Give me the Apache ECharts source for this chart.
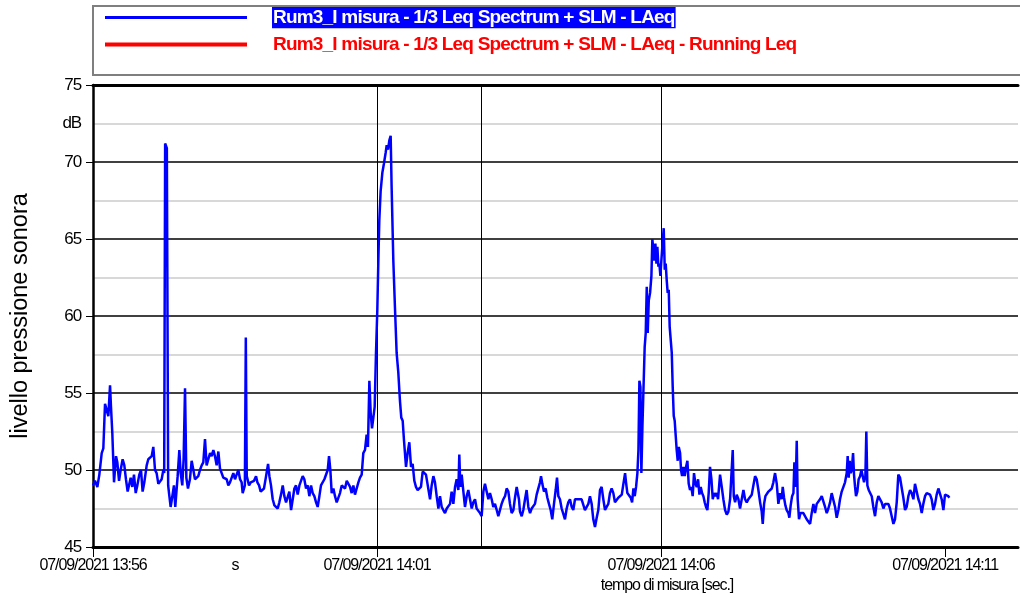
<!DOCTYPE html>
<html>
<head>
<meta charset="utf-8">
<script src="https://cdn.jsdelivr.net/npm/echarts@6/dist/echarts.min.js"></script>
<style>
  html, body { margin: 0; padding: 0; background: #fff; }
  #chart { width: 1020px; height: 598px; }
</style>
</head>
<body>
<div id="chart"></div>
<script>
// LAeq readings, [seconds since 13:56:00, dB]
const opening = [
  [0,49.0],[2.1,49.3],[4.6,48.9],[6.7,49.7],[9.2,51.1],[10.9,51.4],[12.7,54.3],[14.4,53.9],[16.2,53.5],[18,55.5],
  [19,54.1],[20.4,52.4],[22.2,49.2],[24.3,50.9],[25.7,50.5],[27.5,49.3],[29.2,50.0],[31.3,50.7],[33.1,50.3],[34.8,49.4],
  [36.6,48.6],[38.4,48.5],[39.8,49.5],[41.5,48.9],[43.3,49.7],[45.1,48.5],[46.8,49.0],[48.9,49.7],[50.7,50.0],[52.4,48.6],
  [54.2,49.2],[56.7,50.3],[58.4,50.7],[60.2,50.7],[62,50.9],[63.7,51.5],[65.5,50.0],[67.2,49.8],[69,49.1],[70.8,49.0],
  [72.5,49.4],[74.3,50.0],[75.2,49.8],[76.2,71.2],[78,70.9],[79.4,49.0],[80.3,48.5],[82,47.6],[83.8,48.3],[85.5,49.0],
  [86.9,47.6],[88.4,47.5],[89.4,49.6],[91.2,51.3],[92.6,49.8],[94.3,49.0],[95.7,50.7],[97.2,55.3],[98.6,49.5],[100.3,48.8],
  [102.4,49.4],[104.2,50.6],[106,50.0],[107.7,49.4],[109.5,49.4],[111.2,49.6],[113,50.0],[114.8,50.3],[116.5,50.5],[118.3,52.0],
  [120,50.3],[121.8,50.7],[123.6,51.1],[125.3,50.9],[127.1,51.3],[128.8,50.9],[130.6,50.3],[132.4,51.2],[134.1,50.1],[135.9,49.8],
  [137.6,49.5],[139.4,49.6],[141.2,49.4],[142.9,49.0],[144.7,49.2],[146.5,49.3],[148.2,49.8],[150,49.4],[151.7,49.7],[153.5,50.0],
  [155.3,49.4],[157,49.2],[158.1,48.5],[160.4,49.0],[161.4,58.6],[162.4,49.6]
];
const steadyA = [
  [164.8,49.0],[166.6,49.2],[168.3,49.1],[170.1,49.3],[172.2,49.6],[173.6,49.2],[175.4,49.0],[177.1,48.6],[178.9,48.5],[180.6,48.8],
  [182.8,49.6],[184.9,50.4],[186.3,49.6],[188,49.0],[189.8,48.1],[191.6,47.7],[193.3,47.6],[195.1,47.5],[196.8,47.9],[198.6,48.4],
  [200.4,49.0],[202.1,48.3],[203.9,47.9],[205.6,47.9],[207.4,48.6],[209.2,47.4],[210.9,47.3],[212.7,48.8],[214.4,49.0],[216.2,48.4],
  [218,49.0],[219.7,48.9],[221.5,49.6],[223.2,49.4],[225,48.8],[226.8,49.0],[228.5,48.3],[230.3,49.0],[232,48.5],[233.8,48.3],
  [235.6,47.9],[237.3,47.6],[239.1,48.3],[240.8,49.0],[242.6,49.1],[244.4,49.4],[246.1,49.5],[247.9,50.0],[249.3,50.9],[250.7,50.0],
  [252.1,48.5],[253.9,48.8],[255.6,48.3],[257.4,47.9],[259.1,47.8],[260.9,48.5],[262.7,49.0],[264.4,48.9],[266.2,48.8],[268,49.3],
  [269.7,49.3],[271.5,48.9],[273.2,48.5],[275,49.0],[276.7,48.4],[278.5,48.8],[280.3,49.2],[282,49.5],[283.8,49.7]
];
const firstPassBy = [
  [285.5,51.1],[287.3,51.3],[289,52.3],[290.4,51.5],[291.9,55.8],[293.3,53.7],[294.7,52.7],[296.1,52.7],[297.5,54.1],[298.9,57.6],
  [300.3,60.4],[301.4,63.6],[302.4,66.2],[303.8,68.1],[305.6,69.3],[307.3,69.9],[309.1,70.6],[310.2,71.1],[311.6,70.8],[313,71.4],
  [314.4,71.7],[315.4,68.4],[317.2,63.6],[318.9,60.6],[320.7,57.6],[322.5,56.3],[324.2,54.5],[325.6,53.4],[327.1,53.2],[328.5,51.9],
  [330.6,50.2],[332.3,51.1],[334.1,51.8],[335.9,50.2],[337.6,50.4],[339.4,49.3],[341.1,48.9],[342.9,48.7],[344.7,48.8],[346.4,48.9],
  [348.2,49.9],[349.9,49.8],[351.7,49.7],[353.5,49.8]
];
const steadyB = [
  [356,48.1],[357.7,49.0],[359.5,49.6],[361.2,49.2],[363,48.3],[364.8,47.5],[366.5,48.3],[368.3,47.6],[370,47.4],[371.8,47.2],
  [373.6,47.5],[375.3,47.6],[377.1,47.8],[378.8,48.6],[380.6,47.8],[382.4,48.9],[384.1,49.4],[385.9,48.7],[386.9,51.0],[388,48.9],
  [389.4,49.7],[391.2,48.6],[392.9,47.6],[394.7,48.3],[396.4,48.7],[398.2,48.1],[400,47.5],[401.7,47.9],[403.5,48.1],[405.2,47.5],
  [407,47.4],[408.8,47.2],[410.5,47.0],[412.3,48.6],[414,49.1],[415.8,49.2],[417.6,48.1],[419.3,48.5],[421.1,48.1],[422.8,47.6],
  [424.6,47.8],[426.4,47.4],[428.1,47.0],[429.9,46.9],[431.6,47.8],[433.4,48.1],[435.2,48.3],[436.9,48.8],[438.7,48.6],[440.4,47.8],
  [442.2,47.2],[444,47.4],[445.7,48.2],[447.5,48.9],[448.5,49.0],[449.9,48.1],[451,47.3],[452.8,47.0],[454.5,47.4],[456.3,48.1],
  [458,48.7],[459.8,47.6],[461.6,47.2],[463.3,47.5],[465.1,47.4],[466.8,47.8],[468.6,48.4],[470.4,48.5],[472.1,49.2],[473.2,49.6],
  [474.6,49.1],[476.3,48.6],[478.1,48.8],[479.9,48.2],[481.6,47.8],[483.4,47.4],[485.1,46.8],[486.9,47.8],[488.7,48.7],[490.1,49.5],
  [491.5,48.3],[493.2,48.1],[495,47.5],[496.8,47.4],[498.5,46.8],[500.3,47.5],[502,47.9],[503.8,48.1],[505.6,47.6],[507.3,47.4],
  [509.1,48.1],[510.8,48.2],[512.6,48.1],[514.4,48.2],[516.1,48.1],[517.9,48.1],[519.6,47.4],[521.4,47.3],[523.2,47.8],[524.9,48.3],
  [526.7,47.8],[528.4,46.8],[530.2,46.3],[532,46.9],[533.7,47.4],[535.5,48.7],[537.2,48.9],[539,48.1],[540.8,47.4],[542.5,47.6],
  [544.3,47.8],[546,48.5],[547.8,48.8],[549.6,48.5],[551.3,47.9],[553.1,47.9],[554.8,48.2],[556.6,48.3]
];
const secondPassBy = [
  [558.5,48.4],[560.2,49.1],[562,49.8],[563,49.2],[564.4,48.5],[566.2,48.4],[568,48.2],[569.4,47.9],[570.8,48.8],[572.2,48.3],
  [573.6,48.9],[575,49.8],[576.1,51.3],[577.1,55.8],[578.2,55.4],[579.2,49.8],[580.3,52.8],[581.3,55.0],[582.7,58.0],[583.8,58.9],
  [584.9,61.9],[585.9,58.9],[587,61.0],[588.4,61.5],[589.8,62.6],[590.8,65.0],[591.9,64.9],[592.9,63.6],[594,64.7],[595.1,63.4],
  [596.1,64.5],[597.2,63.2],[598.2,63.4],[599.3,62.6],[600.3,63.6],[601.8,64.9],[602.8,65.7],[603.9,63.0],[604.9,63.4],[606,62.3],
  [607,61.5],[608.1,61.7],[609.1,59.3],[610.2,59.3],[611.3,57.6],[612.3,55.4],[613.4,53.5],[614.4,53.2],[615.5,52.2],[616.5,51.3],
  [617.6,50.6],[618.7,51.5],[620.1,51.1],[621.1,50.0],[622.2,49.6],[623.6,50.2],[625,49.6],[626.4,50.2],[627.8,50.6],[629.2,49.1],
  [630.6,48.7],[632,48.9],[633.4,48.3],[634.8,49.8],[636.3,49.1],[637.7,48.9],[639.1,49.4],[640.5,48.4],[641.9,48.9],[643.3,48.5],
  [644.7,48.3],[646.1,47.9],[647.5,47.6],[648.9,47.4],[650.3,48.5],[651.7,50.2],[653.2,49.4],[654.6,48.1],[656,48.5],[657.4,48.3],
  [658.8,48.5],[660.2,48.1]
];
const closing = [
  [662.3,49.7],[664.1,48.9],[665.8,48.1],[667.6,47.4],[669.4,47.1],[671.1,47.3],[672.9,48.1],[674.6,48.2],[675.7,51.3],[676.8,48.3],
  [678.2,47.9],[679.9,48.4],[681.7,48.1],[683.4,47.5],[685.2,48.1],[687,48.7],[688.7,48.1],[690.5,47.9],[692.2,48.1],[694,48.2],
  [695.8,48.4],[697.5,49.0],[699.3,49.6],[701,49.4],[702.8,48.7],[704.6,47.9],[706.3,47.3],[707.4,46.5],[708.8,47.8],[710.2,48.3],
  [711.6,48.4],[713.4,48.6],[715.1,48.7],[716.9,48.8],[718.6,49.2],[720.4,49.8],[722.2,49.1],[723.9,47.8],[725.7,48.5],[727.4,48.1],
  [728.5,48.9],[729.9,48.2],[731.3,47.7],[732.7,47.4],[734.5,47.2],[735.5,46.9],[736.9,47.7],[738.4,48.3],[739.8,48.5],[740.8,50.5],
  [742.2,48.9],[743.3,51.9],[744.3,48.1],[745.7,46.8],[747.2,47.2],[748.6,47.2],[750.3,47.2],[752.1,47.1],[753.8,46.8],[755.6,46.9],
  [757.4,46.5],[759.1,47.2],[760.9,47.8],[762.6,47.2],[764.4,47.8],[766.2,47.9],[767.9,48.1],[769.7,48.3],[771.4,48.3],[773.2,47.6],
  [775,47.2],[776.7,47.5],[778.5,47.9],[780.2,48.5],[782,48.6],[783.8,47.6],[785.5,46.9],[787.3,47.4],[789,48.1],[790.8,48.6],
  [792.6,48.7],[794.3,49.2],[796.1,49.8],[797.1,50.9],[798.2,49.5],[799.2,50.6],[800.3,49.8],[801.4,50.0],[802.8,51.1],[803.8,49.7],
  [804.9,48.9],[805.9,48.3],[807.3,48.6],[808.7,49.4],[810.2,49.6],[811.6,50.0],[813,50.1],[814.4,49.2],[815.8,49.6],[816.8,52.5],
  [817.9,49.0],[819.3,48.7],[820.7,48.6],[822.5,48.3],[824.2,47.6],[826,47.0],[827.8,47.9],[829.5,48.3],[831.3,48.4],[833,47.9],
  [834.8,47.5],[836.6,47.8],[838.3,47.9],[840.1,47.8],[841.8,47.5],[843.6,47.4],[845.4,46.5],[847.1,46.8],[848.9,47.9],[850.6,49.7],
  [852.4,49.5],[854.2,49.4],[855.9,48.2],[857.7,47.4],[859.4,47.6],[861.2,48.3],[863,48.7],[864.7,48.5],[866.5,48.1],[868.2,49.1],
  [870,49.2],[871.8,48.1],[873.5,47.8],[875.3,47.2],[877,47.8],[878.8,48.3],[880.6,48.5],[882.3,48.5],[884.1,48.4],[885.8,48.1],
  [887.6,47.4],[889.4,47.8],[891.1,48.4],[892.9,48.8],[894.6,48.7],[896.4,48.1],[898.2,47.4],[899.9,48.4],[901.7,48.5],[903.4,48.3],
  [904.5,48.2]
];
const runningLeq = [];

const seriesNames = [
  'Rum3_I misura - 1/3 Leq Spectrum + SLM - LAeq',
  'Rum3_I misura - 1/3 Leq Spectrum + SLM - LAeq - Running Leq'
];
const timeTickSeconds = [0, 300, 600, 900];
const timeTickLabels = ['07/09/2021 13:56', '07/09/2021 14:01', '07/09/2021 14:06', '07/09/2021 14:11'];
const unitTickSeconds = 150;
const unitTickLabel = 's';
const cursorSeconds = 410;
const levelTicks = { min: 45, max: 75, step: 5 };
const levelUnitTick = 72.5;

// Tight tracking for canvas text: a "track<N>px" entry in a font list sets letter spacing.
(function () {
  const proto = CanvasRenderingContext2D.prototype;
  const TRACK = /track(-?[\d.]+)px/;
  ['fillText', 'strokeText', 'measureText'].forEach(fn => {
    const orig = proto[fn];
    proto[fn] = function () {
      const m = TRACK.exec(this.font);
      try { this.letterSpacing = m ? m[1] + 'px' : '0px'; } catch (e) {}
      return orig.apply(this, arguments);
    };
  });
})();

const AXIS_FONT = '"track-1.1px", "Liberation Sans", Arial, sans-serif';
const LEGEND_FONT = '"track-0.8px", "Liberation Sans", Arial, sans-serif';
const TITLE_FONT = '"Liberation Sans", Arial, sans-serif';

const laeq = [].concat(opening, steadyA, firstPassBy, steadyB, secondPassBy, closing);

function timeLabel(v) {
  if (v === unitTickSeconds) return unitTickLabel;
  const i = timeTickSeconds.indexOf(v);
  return i >= 0 ? timeTickLabels[i] : '';
}

const chart = echarts.init(document.getElementById('chart'), null, { renderer: 'canvas' });

chart.setOption({
  animation: false,
  backgroundColor: '#ffffff',
  grid: { left: 93, right: 2, top: 85, bottom: 51, containLabel: false },
  graphic: [{
    type: 'rect',
    shape: { x: 93, y: 6, width: 940, height: 69 },
    style: { fill: 'none', stroke: '#7f7f7f', lineWidth: 2 },
    silent: true
  }],
  legend: [{
    data: [seriesNames[0]],
    left: 105, top: 7, padding: 0,
    icon: 'rect', itemWidth: 142, itemHeight: 3,
    selectedMode: false,
    formatter: n => '{gap|}{hl|' + n + '}',
    textStyle: {
      rich: {
        gap: { width: 20 },
        hl: { color: '#ffffff', backgroundColor: '#0000ff', fontFamily: LEGEND_FONT, fontWeight: 'bold', fontSize: 19, padding: [2, 1, 1, 1] }
      }
    }
  }, {
    data: [seriesNames[1]],
    left: 105, top: 36, padding: 0,
    icon: 'rect', itemWidth: 142, itemHeight: 4,
    selectedMode: false,
    formatter: n => '{gap|}{t|' + n + '}',
    textStyle: {
      rich: {
        gap: { width: 20 },
        t: { color: '#ff0000', fontFamily: LEGEND_FONT, fontWeight: 'bold', fontSize: 19, padding: [2, 1, 1, 1] }
      }
    }
  }],
  xAxis: [{
    type: 'value', position: 'bottom', min: 0, max: 977, interval: 300,
    axisLine: { show: true, onZero: false, lineStyle: { color: '#000', width: 3 } },
    axisTick: { show: true, customValues: timeTickSeconds, length: 10, lineStyle: { color: '#000', width: 1 } },
    axisLabel: {
      customValues: timeTickSeconds.concat([unitTickSeconds]),
      formatter: timeLabel, fontFamily: AXIS_FONT, fontSize: 16, color: '#000', margin: 11
    },
    splitLine: { show: true, showMinLine: false, showMaxLine: false, lineStyle: { color: '#000', width: 1 } },
    name: 'tempo di misura [sec.]', nameLocation: 'middle', nameGap: 31,
    nameTextStyle: { fontFamily: AXIS_FONT, fontSize: 16, color: '#000', padding: [0, 0, 0, 223] }
  }, {
    type: 'value', position: 'top', min: 0, max: 977,
    axisLine: { show: true, onZero: false, lineStyle: { color: '#000', width: 3 } },
    axisTick: { show: false }, axisLabel: { show: false }, splitLine: { show: false }
  }],
  yAxis: [{
    type: 'value', min: levelTicks.min, max: levelTicks.max, interval: levelTicks.step,
    axisLine: { show: true, onZero: false, lineStyle: { color: '#000', width: 2.5 } },
    axisTick: { show: true, length: 7, lineStyle: { color: '#000', width: 1 } },
    axisLabel: { fontFamily: AXIS_FONT, fontSize: 17, color: '#000', margin: 12 },
    splitLine: { show: true, showMinLine: false, lineStyle: { color: '#000', width: 1.5 } },
    minorTick: { show: false, splitNumber: 2 },
    minorSplitLine: { show: true, lineStyle: { color: '#cccccc', width: 1.5 } },
    name: 'livello pressione sonora', nameLocation: 'middle', nameGap: 60,
    nameTextStyle: { fontFamily: TITLE_FONT, fontSize: 23.5, color: '#000' }
  }, {
    type: 'value', position: 'left', min: levelTicks.min, max: levelTicks.max, interval: levelTicks.step / 2,
    axisLine: { show: false }, axisTick: { show: false }, splitLine: { show: false },
    axisLabel: {
      formatter: v => (v === levelUnitTick ? 'dB' : ''),
      fontFamily: AXIS_FONT, fontSize: 17, color: '#000', margin: 12
    }
  }],
  series: [{
    name: seriesNames[0],
    type: 'line',
    data: laeq,
    symbol: 'none', showSymbol: false,
    lineStyle: { color: '#0000ff', width: 2.5 },
    itemStyle: { color: '#0000ff' },
    silent: true,
    markLine: {
      silent: true, symbol: 'none', animation: false,
      label: { show: false },
      lineStyle: { color: '#000', width: 1, type: 'solid' },
      data: [{ xAxis: cursorSeconds }]
    }
  }, {
    name: seriesNames[1],
    type: 'line',
    data: runningLeq,
    symbol: 'none',
    lineStyle: { color: '#ff0000', width: 4 },
    itemStyle: { color: '#ff0000' }
  }]
});
</script>
</body>
</html>
